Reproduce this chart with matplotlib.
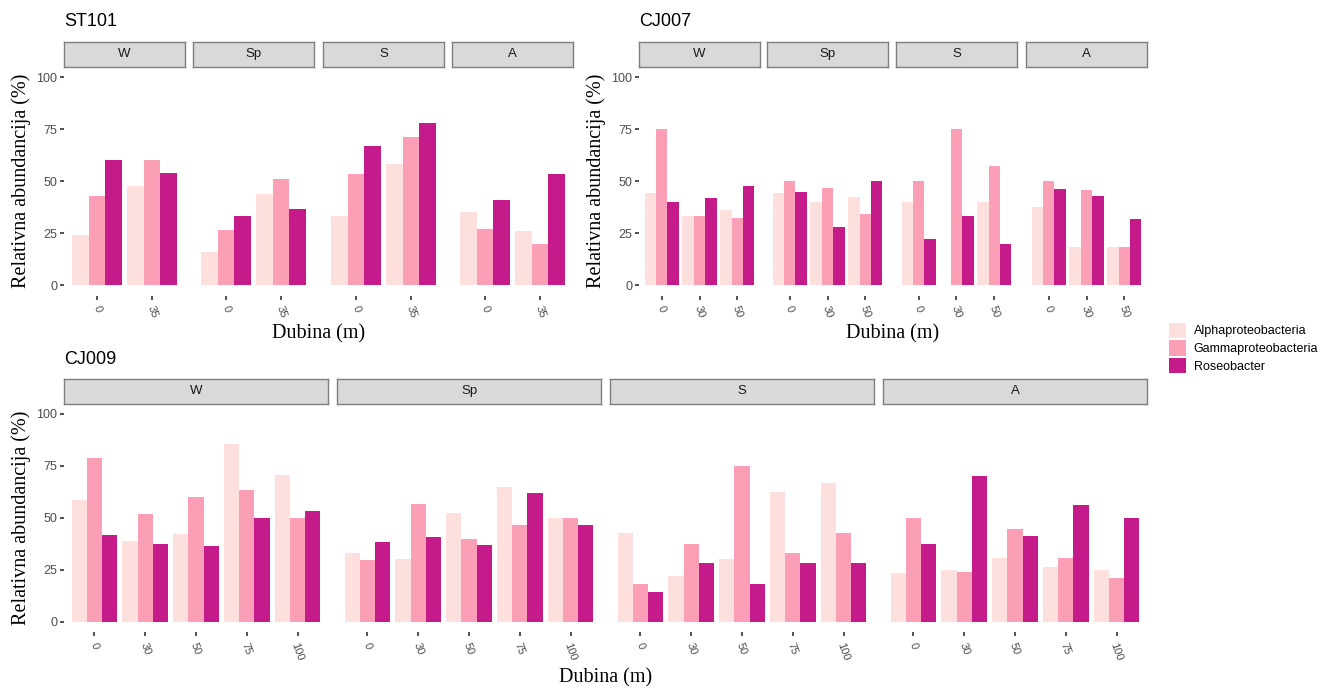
import matplotlib
matplotlib.use("Agg")
import matplotlib.pyplot as plt
from matplotlib.patches import Patch

# Data (relative abundance, %)
seasons = ['W', 'Sp', 'S', 'A']
taxa = ['Alphaproteobacteria', 'Gammaproteobacteria', 'Roseobacter']
colors = ['#FDE0DD', '#FA9FB5', '#C51B8A']

st101_depths = ['0', '35']
st101_alpha = [[24, 47.6], [16, 44], [33.3, 58.3], [35.3, 26]]
st101_gamma = [[43, 60], [26.3, 51.2], [53.3, 71.4], [27, 20]]
st101_roseo = [[60, 53.8], [33.3, 36.4], [66.7, 77.8], [41, 53.3]]

cj007_depths = ['0', '30', '50']
cj007_alpha = [[44.4, 33.3, 36], [44.4, 40, 42.5], [40, 0, 40], [37.5, 18.2, 18.2]]
cj007_gamma = [[75, 33.3, 32.2], [50, 46.5, 34.4], [50, 75, 57.1], [50, 45.8, 18.2]]
cj007_roseo = [[40, 41.7, 47.6], [45, 28, 50], [22.2, 33.3, 20], [46.2, 42.9, 31.6]]

cj009_depths = ['0', '30', '50', '75', '100']
cj009_alpha = [[58.8, 38.8, 42.1, 85.7, 70.7], [33.3, 30.3, 52.4, 64.9, 50],
               [42.9, 22.3, 30.1, 62.5, 66.7], [23.6, 25, 30.8, 26.6, 25]]
cj009_gamma = [[78.8, 51.8, 60, 63.6, 50], [29.6, 56.7, 40, 46.5, 50],
               [18.2, 37.5, 75, 33.3, 42.9], [50, 24, 44.7, 30.8, 21.3]]
cj009_roseo = [[41.8, 37.5, 36.4, 50, 53.4], [38.5, 40.7, 37, 62, 46.6],
               [14.3, 28.6, 18.2, 28.6, 28.6], [37.5, 70, 41.2, 56.3, 50]]

W, H = 1328, 689
fig = plt.figure(figsize=(W / 100, H / 100), dpi=100)
fig.patch.set_facecolor('white')

sans = 'Liberation Sans'
serif = 'Liberation Serif'


def px_axes(x0, x1, y0, y1, **kw):
    # pixel box (top-left origin) -> figure axes
    return fig.add_axes([x0 / W, 1 - y1 / H, (x1 - x0) / W, (y1 - y0) / H], **kw)


def draw_station(name, depths, alpha, gamma, roseo, panels, ytop, ybot, strip_top, xlab_off):
    series = [alpha, gamma, roseo]
    n = len(depths)
    for k, (x0, x1) in enumerate(panels):
        ax = px_axes(x0, x1, ytop, ybot)
        for j, vals in enumerate(series):
            xs = [i + (j - 1) * 0.3 for i in range(n)]
            ax.bar(xs, vals[k], width=0.3, color=colors[j], linewidth=0)
        ax.set_xlim(-0.6, n - 1 + 0.6)
        ax.set_ylim(-5, 105)
        for s in ax.spines.values():
            s.set_visible(False)
        ax.set_xticks(range(n))
        ax.set_xticklabels(depths, rotation=-70, ha='center', va='top',
                           fontsize=8, color='#4D4D4D', family=sans)
        ax.tick_params(axis='x', length=3, width=1.2, color='#333333', pad=3.5)
        if k == 0:
            ax.set_yticks([0, 25, 50, 75, 100])
            ax.set_yticklabels(['0', '25', '50', '75', '100'], fontsize=9,
                               color='#4D4D4D', family=sans)
            ax.tick_params(axis='y', length=3, width=1.2, color='#333333', pad=2)
        else:
            ax.set_yticks([])
        # facet strip
        sax = px_axes(x0, x1, strip_top, ytop, facecolor='#D9D9D9')
        sax.set_xticks([])
        sax.set_yticks([])
        for s in sax.spines.values():
            s.set_color('#7F7F7F')
            s.set_linewidth(1.0)
        sax.text(0.5, 0.5, seasons[k], ha='center', va='center', fontsize=9.5,
                 color='#1A1A1A', family=sans, transform=sax.transAxes)
    left = panels[0][0]
    right = panels[-1][1]
    fig.text(left / W, 1 - (strip_top - 20) / H, name, ha='left', va='center',
             fontsize=13, family=sans, color='black')
    y0 = ytop + 10.4
    y100 = ybot - 10.4
    fig.text((left - 43) / W, 1 - ((y0 + y100) / 2) / H, 'Relativna abundancija (%)',
             rotation=90, ha='center', va='center', fontsize=14.5, family=serif)
    fig.text(((left + right) / 2) / W, 1 - (ybot + xlab_off) / H, 'Dubina (m)',
             ha='center', va='center', fontsize=14.5, family=serif)


draw_station('ST101', st101_depths, st101_alpha, st101_gamma, st101_roseo,
             [(64, 185), (193, 314), (323, 444), (452, 573)], 66.6, 295.6, 42, 38)
draw_station('CJ007', cj007_depths, cj007_alpha, cj007_gamma, cj007_roseo,
             [(639, 760), (767, 888), (896, 1017), (1026, 1147)], 66.6, 295.6, 42, 38)
draw_station('CJ009', cj009_depths, cj009_alpha, cj009_gamma, cj009_roseo,
             [(64, 328), (337, 601), (610, 874), (883, 1147)], 403.6, 632.4, 379, 45)

handles = [Patch(facecolor=c, edgecolor='none') for c in colors]
fig.legend(handles, taxa, loc='center left', bbox_to_anchor=(1160 / W, 1 - 348 / H),
           frameon=False, handlelength=1.4, handleheight=1.5, borderaxespad=0.3,
           labelspacing=0.2, handletextpad=0.6, prop={'family': sans, 'size': 9})

fig.savefig('out.png', dpi=100)
